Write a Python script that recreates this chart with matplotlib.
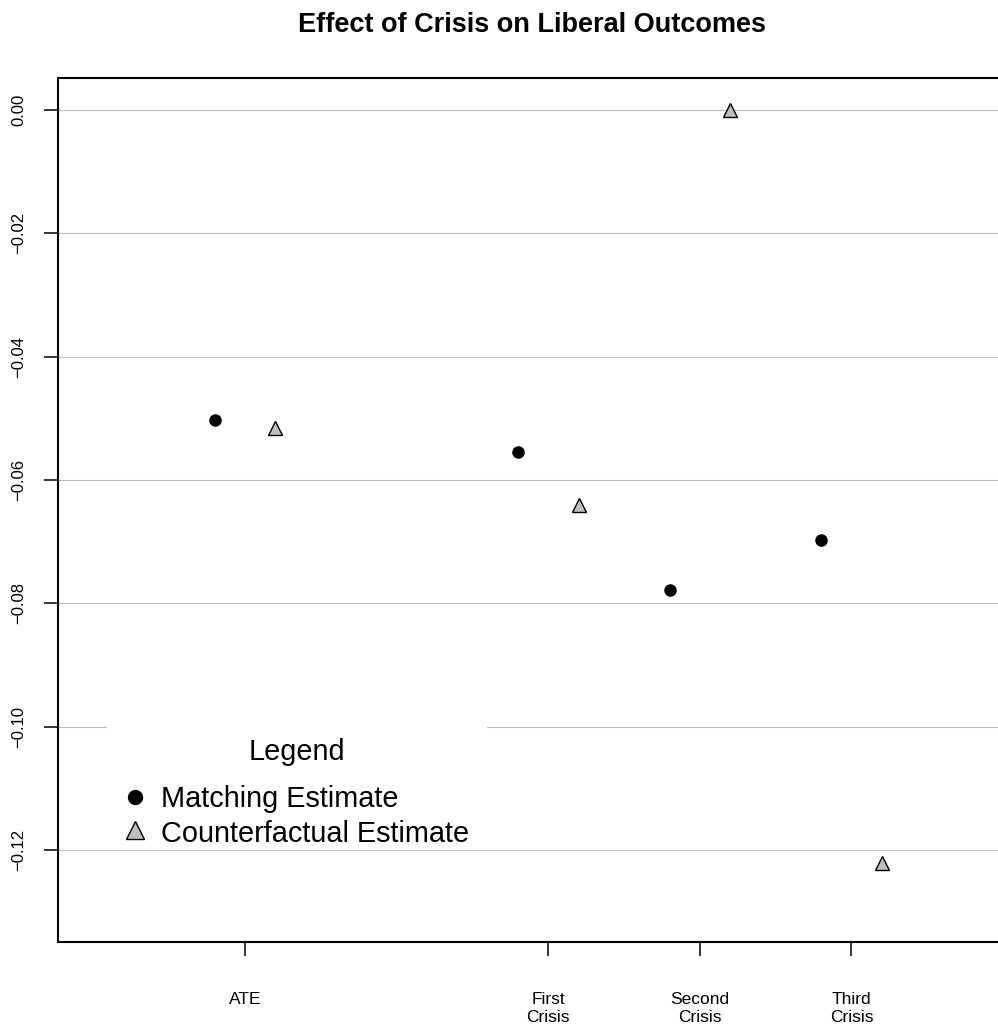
import numpy as np
import matplotlib
matplotlib.use("Agg")
import matplotlib.pyplot as plt
from matplotlib.patches import Rectangle
from matplotlib.lines import Line2D

plt.rcParams['font.family'] = ['Liberation Sans', 'DejaVu Sans']

# data
positions = [1, 3, 4, 5]
tick_labels = ["ATE", "First\nCrisis", "Second\nCrisis", "Third\nCrisis"]
matching = [-0.0502, -0.0554, -0.0779, -0.0697]
counterfactual = [-0.0516, -0.0640, 0.0000, -0.1221]
y_ticks = [0.00, -0.02, -0.04, -0.06, -0.08, -0.10, -0.12]
offset = 0.2

fig = plt.figure(figsize=(9.98, 10.29), dpi=100)
ax = fig.add_axes([58 / 998, 87 / 1029, 948 / 998, 864 / 1029])

ax.set_xlim(-0.235, 6.02)
ax.set_ylim(-0.1349, 0.00519)

# horizontal grid
for yv in y_ticks:
    ax.axhline(yv, color='#bebebe', lw=0.8, zorder=1)

x = np.array(positions, dtype=float)
ax.plot(x - offset, matching, 'o', color='black', ms=8, zorder=3)
ax.plot(x + offset, counterfactual, '^', mfc='#bebebe', mec='black',
        mew=1.0, ms=9.5, zorder=3)

ax.set_xticks(positions)
ax.set_xticklabels(tick_labels, fontsize=12.5, linespacing=1.25)
ax.set_yticks(y_ticks)
ax.set_yticklabels([f"{v:.2f}".replace('-', '\u2212') for v in y_ticks],
                   fontsize=12, rotation=90, va='center')
ax.tick_params(axis='x', length=10, width=1.1, pad=26)
ax.tick_params(axis='y', length=10, width=1.1, pad=13)
for sp in ax.spines.values():
    sp.set_linewidth(1.5)

# legend drawn by hand: white box, no frame
def fx(px):
    return (px - 58) / 948

def fy(py):
    return (942 - py) / 864

ax.add_patch(Rectangle((fx(107), fy(849)), fx(487) - fx(107), fy(725) - fy(849),
                       transform=ax.transAxes, facecolor='white',
                       edgecolor='none', zorder=4))
ax.text(fx(297), fy(760), "Legend", transform=ax.transAxes, fontsize=20.8,
        ha='center', va='baseline', zorder=5)
ax.add_line(Line2D([fx(135)], [fy(797)], transform=ax.transAxes, marker='o',
                   color='black', ms=10, ls='none', zorder=5))
ax.add_line(Line2D([fx(135)], [fy(830)], transform=ax.transAxes, marker='^',
                   mfc='#bebebe', mec='black', mew=1.0, ms=12.5, ls='none',
                   zorder=5))
ax.text(fx(161), fy(806.7), "Matching Estimate", transform=ax.transAxes,
        fontsize=20.8, ha='left', va='baseline', zorder=5)
ax.text(fx(161), fy(841.7), "Counterfactual Estimate", transform=ax.transAxes,
        fontsize=20.8, ha='left', va='baseline', zorder=5)

fig.text(532 / 998, 1 - 31.5 / 1029, "Effect of Crisis on Liberal Outcomes",
         fontsize=19.5, fontweight='bold', ha='center', va='baseline')

fig.savefig("out.png", dpi=100)
